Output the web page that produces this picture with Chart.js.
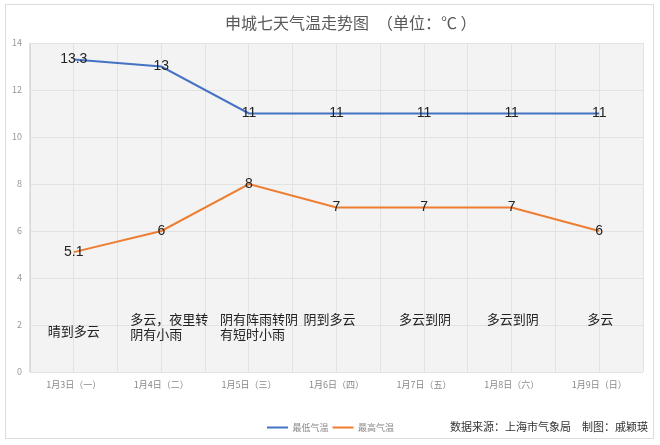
<!DOCTYPE html>
<html>
<head>
<meta charset="utf-8">
<script src="https://cdn.jsdelivr.net/npm/chart.js@4"></script>
<style>
  html, body { margin: 0; padding: 0; background: #fff; }
  #wrap { position: relative; width: 660px; height: 445px; overflow: hidden; }
  #frame { position: absolute; left: 5px; top: 4px; width: 649px; height: 435px; border: 1px solid #dcdcdc; box-sizing: border-box; }
  #title { position: absolute; left: 225px; top: 10px; font: 16px "Noto Sans CJK SC", sans-serif; color: #595959; white-space: pre; }
  #source { position: absolute; right: 12px; top: 418px; font: 11px "Noto Sans CJK SC", serif; color: #333; white-space: pre; }
  canvas { position: absolute; left: 0; top: 0; }
</style>
</head>
<body>
<div id="wrap">
  <div id="frame"></div>
  <canvas id="tempChart" width="660" height="445"></canvas>
  <div id="title">申城七天气温走势图　（单位：℃ ）</div>
  <div id="source">数据来源：上海市气象局　制图：戚颖瑛</div>
</div>
<script>
// données
const days = ['1月3日（一）', '1月4日（二）', '1月5日（三）', '1月6日（四）', '1月7日（五）', '1月8日（六）', '1月9日（日）'];
const lowTemps = [13.3, 13, 11, 11, 11, 11, 11];
const highTemps = [5.1, 6, 8, 7, 7, 7, 6];
const weather = [
    ['晴到多云'],
    ['多云，夜里转', '阴有小雨'],
    ['阴有阵雨转阴', '有短时小雨'],
    ['阴到多云'],
    ['多云到阴'],
    ['多云到阴'],
    ['多云']
];
const yTicks = [0, 2, 4, 6, 8, 10, 12, 14];

// fond gris de la zone de tracé + légende recentrée
const plotBg = {
    id: 'plotBg',
    afterLayout(chart) {
        chart.legend.left += 9;
        chart.legend.right += 9;
    },
    beforeDraw(chart) {
        const { ctx, chartArea: a } = chart;
        ctx.save();
        ctx.fillStyle = '#f3f3f3';
        ctx.fillRect(a.left, a.top, a.right - a.left, a.bottom - a.top);
        ctx.restore();
    }
};

// valeurs sur les points + texte météo
const labelsPlugin = {
    id: 'labelsPlugin',
    afterDatasetsDraw(chart) {
        const ctx = chart.ctx;
        const x = chart.scales.x, y = chart.scales.y;
        ctx.save();
        ctx.textAlign = 'center';
        ctx.textBaseline = 'middle';
        ctx.fillStyle = '#222';
        ctx.font = '14px "Liberation Sans", Arial, sans-serif';
        chart.data.datasets.forEach((ds, i) => {
            chart.getDatasetMeta(i).data.forEach((pt, j) => {
                ctx.fillText(String(ds.data[j]), pt.x, pt.y);
            });
        });
        // texte météo : les 4 premières boîtes alignées à gauche, les autres centrées
        const align = ['left', 'left', 'left', 'left', 'center', 'center', 'center'];
        const shift = [-26, -31, -29, -33, 1, 1, 1];
        ctx.font = '13px "Noto Sans CJK SC", sans-serif';
        ctx.fillStyle = '#222';
        weather.forEach((lines, j) => {
            const cx = x.getPixelForValue(j);
            const top = j === 0 ? y.getPixelForValue(1.75) : y.getPixelForValue(2.25);
            ctx.textAlign = align[j];
            lines.forEach((l, k) => {
                ctx.fillText(l, cx + shift[j], top + k * 15);
            });
        });
        ctx.restore();
    }
};

const ctx = document.getElementById('tempChart').getContext('2d');
new Chart(ctx, {
    type: 'line',
    data: {
        labels: days,
        datasets: [{
            label: '最低气温',
            data: lowTemps,
            borderColor: '#4472c4',
            backgroundColor: '#4472c4',
            borderWidth: 2,
            pointRadius: 0,
            tension: 0
        }, {
            label: '最高气温',
            data: highTemps,
            borderColor: '#ed7d31',
            backgroundColor: '#ed7d31',
            borderWidth: 2,
            pointRadius: 0,
            tension: 0
        }]
    },
    options: {
        responsive: false,
        animation: false,
        devicePixelRatio: 1,
        layout: { padding: { left: 0, right: 17, top: 43, bottom: 3 } },
        plugins: {
            legend: {
                position: 'bottom',
                labels: {
                    usePointStyle: true,
                    pointStyle: 'line',
                    pointStyleWidth: 21,
                    boxWidth: 21,
                    boxHeight: 8,
                    padding: 4,
                    color: '#888',
                    font: { size: 9, family: '"Noto Sans CJK SC", sans-serif' }
                }
            },
            tooltip: { enabled: false }
        },
        scales: {
            x: {
                offset: true,
                grid: { offset: true, color: '#e2e2e2', drawTicks: false },
                border: { display: false },
                ticks: {
                    color: '#888',
                    padding: 7,
                    maxRotation: 0,
                    autoSkip: false,
                    font: { size: 9, family: '"Noto Sans CJK SC", sans-serif' }
                },
                afterFit(scale) { scale.height = 47; }
            },
            x2: {
                type: 'category',
                position: 'bottom',
                offset: true,
                grid: { offset: false, color: '#e2e2e2', drawTicks: false },
                border: { display: false },
                ticks: { display: false },
                afterFit(scale) { scale.height = 0; }
            },
            y: {
                min: 0,
                max: 14,
                afterBuildTicks(scale) { scale.ticks = yTicks.map(v => ({ value: v })); },
                grid: { color: '#e2e2e2', drawTicks: false },
                border: { display: true, color: '#dadada' },
                ticks: {
                    color: '#999',
                    padding: 8,
                    font: { size: 9, family: '"Noto Sans CJK SC", sans-serif' }
                },
                afterFit(scale) { scale.width = 30; }
            }
        }
    },
    plugins: [plotBg, labelsPlugin]
});
</script>
</body>
</html>
